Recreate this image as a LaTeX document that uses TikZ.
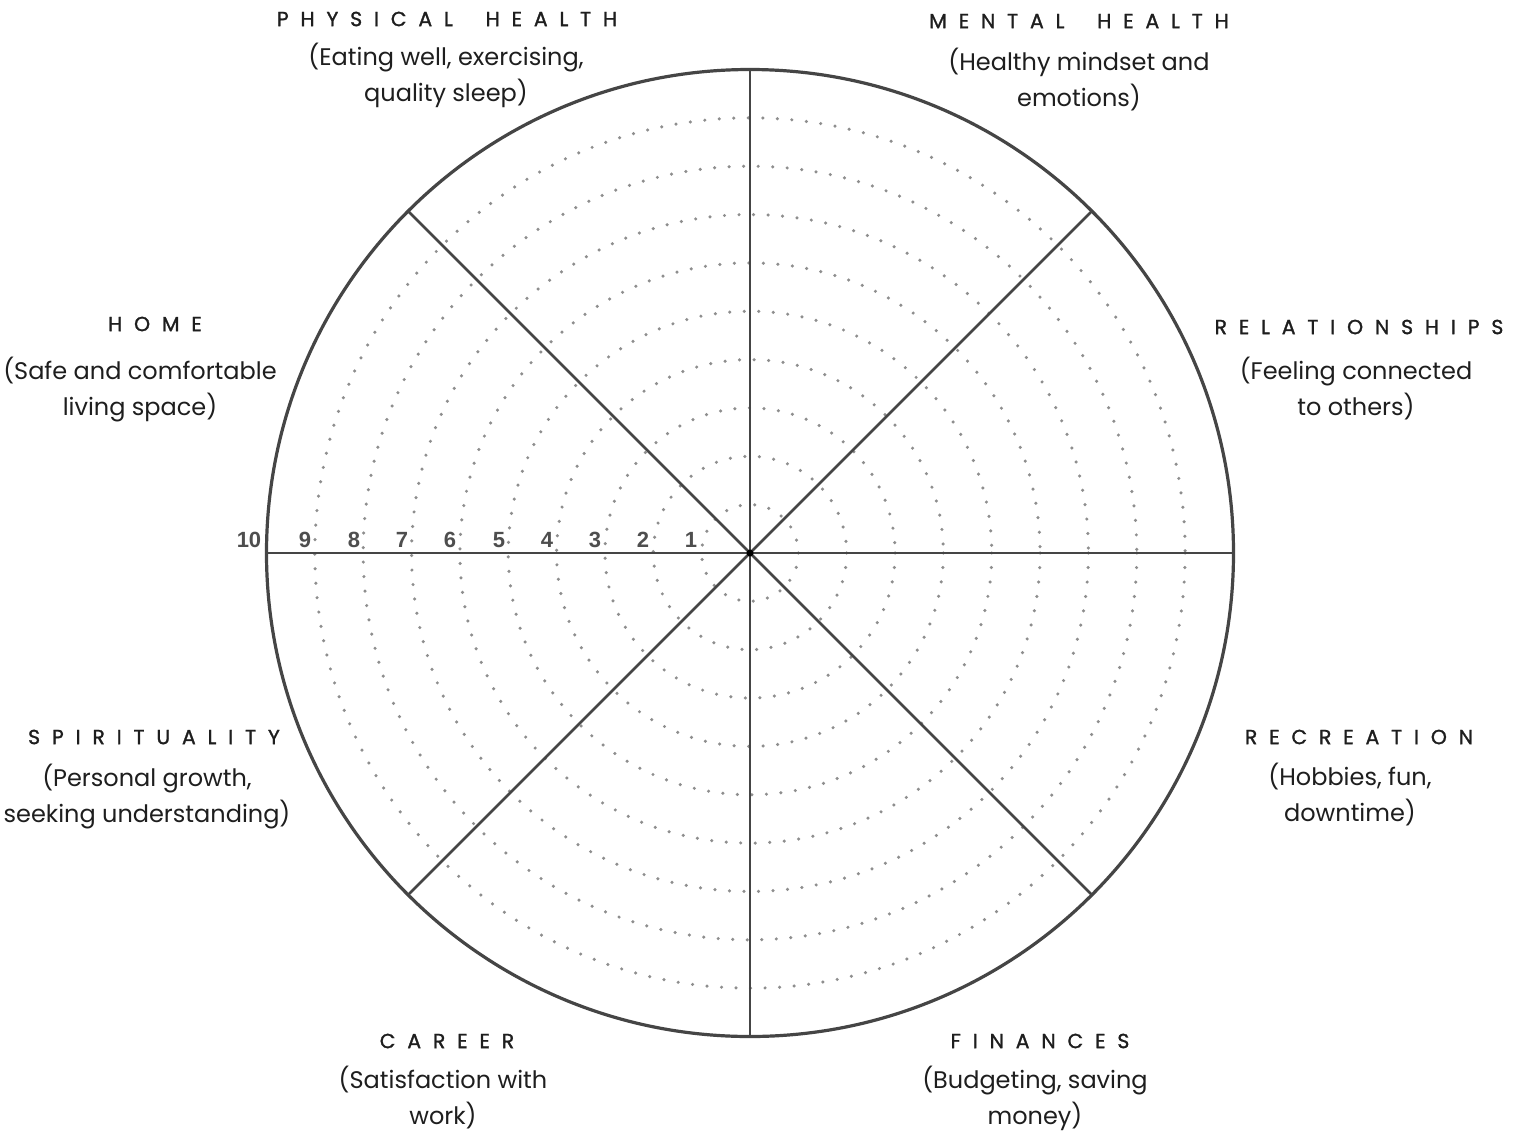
\documentclass[tikz,border=0pt]{standalone}
\usepackage{fontspec}
\setmainfont{Poppins}
\newfontfamily\numfont{Liberation Sans}
\newfontfamily\titlefont[LetterSpace=58,WordSpace=1.9,FakeBold=1.3]{Poppins}
\definecolor{wheelline}{HTML}{454545}
\definecolor{dotgray}{HTML}{8E8E8E}
\definecolor{numgray}{HTML}{4E4E4E}
\definecolor{textcol}{HTML}{1E1E1E}
\tikzset{
  ttl/.style={font=\titlefont\fontsize{15.3}{17}\selectfont, text=textcol, inner sep=0pt, anchor=center},
  sub/.style={font=\fontsize{18}{27}\selectfont, text=textcol, align=center, inner sep=0pt, anchor=north},
  num/.style={font=\numfont\bfseries\fontsize{16.5}{18}\selectfont, text=numgray, inner sep=0pt},
  ring/.style={draw=dotgray, line width=2.6pt, dash pattern=on 0pt off 10.9pt, line cap=round},
  spoke/.style={draw=wheelline, line width=2pt},
  rim/.style={draw=wheelline, line width=2.4pt}
}
\begin{document}
\begin{tikzpicture}[x=0.75pt,y=-0.75pt]
\useasboundingbox (0,0) rectangle (1522,1132);
\fill[white] (0,0) rectangle (1522,1132);
\coordinate (c) at (750,553);
% dotted rings
\foreach \k in {1,...,9} {
  \draw[ring] (c) circle[radius=48.35*\k];
}
% spokes
\foreach \a in {0,45,...,315} {
  \draw[spoke] (c) -- ++(\a:483.5);
}
\draw[rim] (c) circle[radius=483.5];
\fill[black] (c) circle[radius=3.5];
% numbers
\foreach \k/\x in {1/691,2/643,3/595,4/547,5/499,6/450,7/402,8/354,9/305,10/249} {
  \node[num] (n\k) at (\x,540) {\k};
}
% labels
\node[ttl] (t1) at (447,19) {PHYSICAL HEALTH};
\node[sub] (s1) at (446,43) {(Eating well, exercising,\\quality sleep)};
\node[ttl] (t2) at (1079,21) {MENTAL HEALTH};
\node[sub] (s2) at (1079,48) {(Healthy mindset and\\emotions)};
\node[ttl] (t3) at (155,324) {HOME};
\node[sub] (s3) at (140,357) {(Safe and comfortable\\living space)};
\node[ttl] (t4) at (1359,327) {RELATIONSHIPS};
\node[sub] (s4) at (1356,357) {(Feeling connected\\to others)};
\node[ttl] (t5) at (154,737) {SPIRITUALITY};
\node[sub] (s5) at (147,764) {(Personal growth,\\seeking understanding)};
\node[ttl] (t6) at (1359,737) {RECREATION};
\node[sub] (s6) at (1350,763) {(Hobbies, fun,\\downtime)};
\node[ttl] (t7) at (447,1041) {CAREER};
\node[sub] (s7) at (443,1066) {(Satisfaction with\\work)};
\node[ttl] (t8) at (1040,1041) {FINANCES};
\node[sub] (s8) at (1035,1066) {(Budgeting, saving\\money)};
\end{tikzpicture}
\end{document}
